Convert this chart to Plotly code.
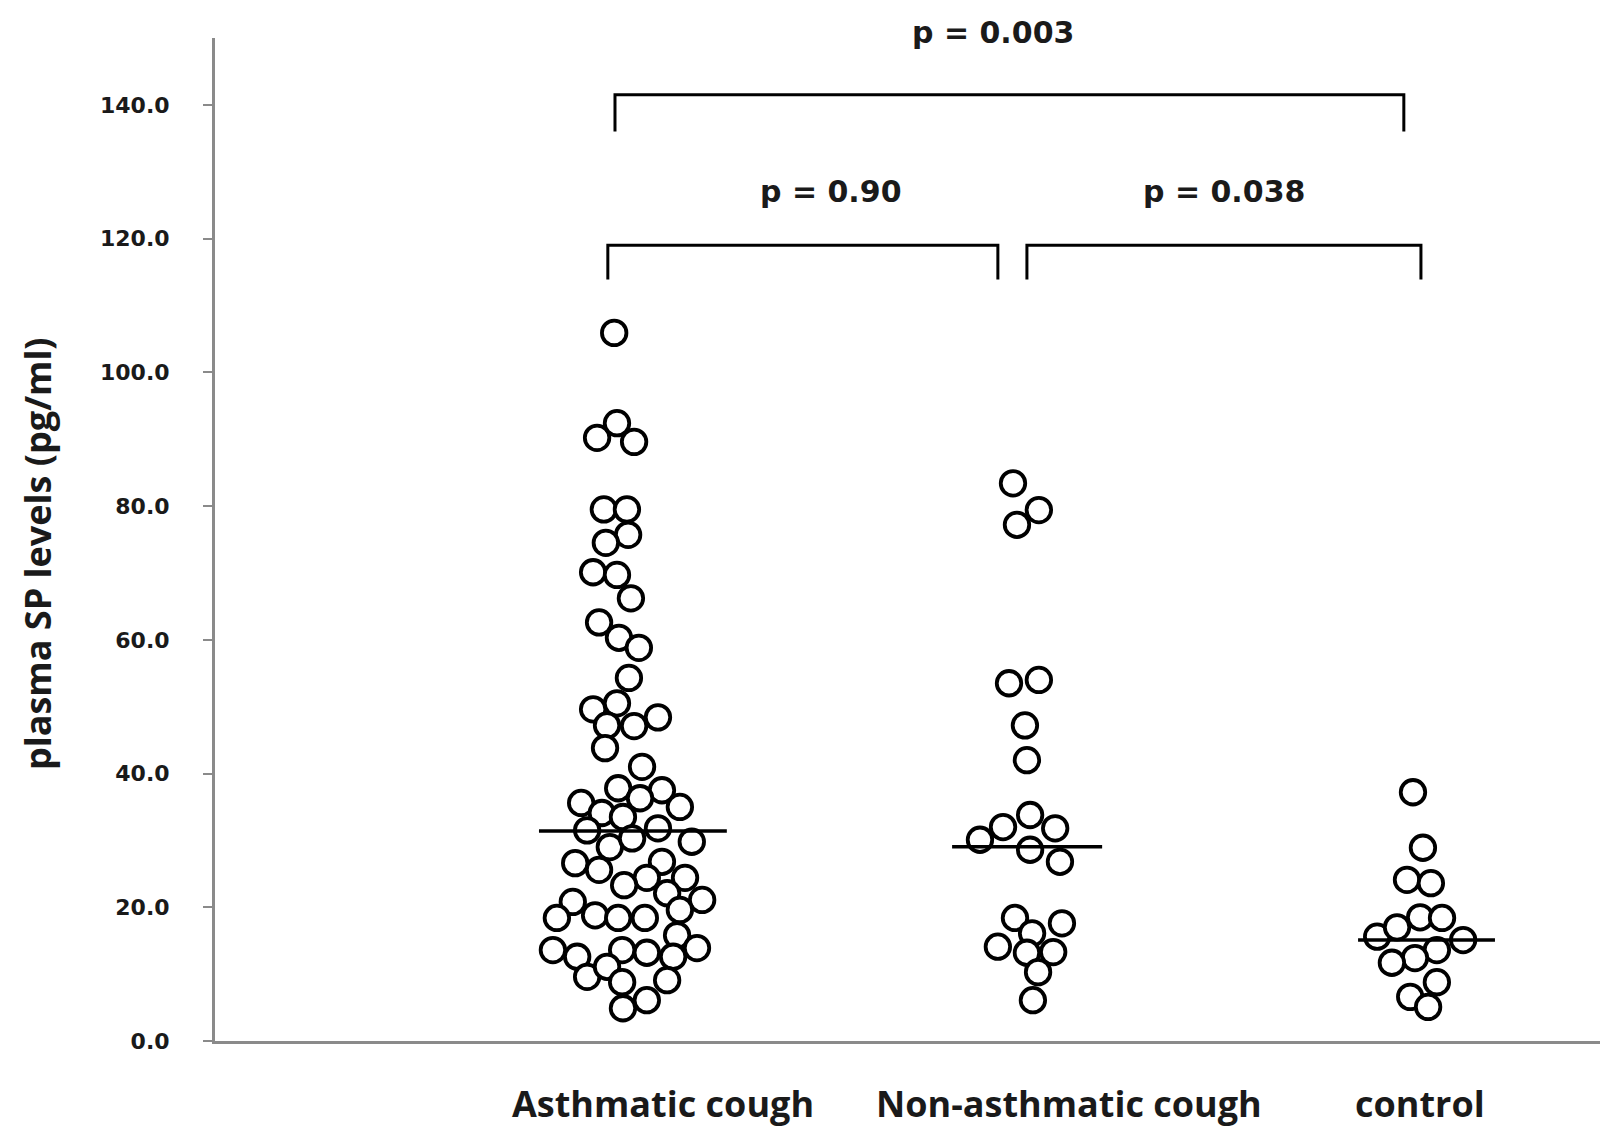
import plotly.graph_objects as go

# ---------------- data ----------------
categories = ["Asthmatic cough", "Non-asthmatic cough", "control"]

# Asthmatic cough: x positions (jittered around 1) and plasma SP values
asthma_x = [1.003, 0.960, 1.010, 1.053, 0.977, 1.035, 1.038, 0.982,
            0.950, 1.010, 1.045, 0.965, 1.015, 1.065, 1.040, 0.950, 1.010, 1.113,
            0.985, 1.053, 0.980, 1.073, 1.013, 1.123,
            1.068, 0.920, 0.972, 1.168, 1.025, 0.935, 1.113, 0.992, 1.048, 1.198,
            0.905, 0.965, 1.123, 1.085, 1.028, 1.181, 1.136, 1.224, 1.168, 0.899,
            0.859, 0.955, 1.013, 1.080, 1.161, 0.849, 0.910, 1.023, 1.085, 1.151,
            1.211, 0.935, 0.985, 1.023, 1.136, 1.025, 1.085]
asthma_y = [105.9, 90.2, 92.4, 89.6, 79.5, 79.5, 75.7, 74.5,
            70.1, 69.7, 66.2, 62.6, 60.3, 58.8, 54.3, 49.6, 50.5, 48.4,
            47.2, 47.1, 43.8, 41.0, 37.8, 37.5,
            36.3, 35.6, 34.1, 35.0, 33.5, 31.5, 31.8, 29.0, 30.3, 29.8,
            26.6, 25.6, 26.8, 24.4, 23.3, 24.4, 22.1, 21.1, 19.6, 20.8,
            18.4, 18.8, 18.4, 18.4, 15.8, 13.6, 12.6, 13.6, 13.2, 12.6,
            13.9, 9.6, 11.1, 8.8, 9.1, 4.9, 6.1]

nonasthma_x = [2.005, 2.070, 2.015, 1.995, 2.070, 2.035, 2.040,
               1.922, 1.980, 2.048, 2.111, 2.048, 2.123, 2.010, 2.053, 2.128,
               1.967, 2.040, 2.106, 2.068, 2.055]
nonasthma_y = [83.4, 79.4, 77.2, 53.5, 54.0, 47.2, 42.0,
               30.1, 32.0, 33.8, 31.8, 28.6, 26.8, 18.4, 16.1, 17.6,
               14.1, 13.2, 13.3, 10.3, 6.1]

control_x = [3.010, 3.035, 2.995, 3.055, 2.920, 2.970, 3.028, 3.083,
             3.136, 3.070, 3.015, 2.957, 3.070, 3.003, 3.048]
control_y = [37.2, 28.9, 24.1, 23.6, 15.6, 17.0, 18.5, 18.4,
             15.1, 13.6, 12.4, 11.7, 8.8, 6.6, 5.1]

medians = [31.4, 29.05, 15.1]

p_labels = ["p = 0.90", "p = 0.038", "p = 0.003"]
y_ticks = [0, 20, 40, 60, 80, 100, 120, 140]
y_title = "plasma SP levels (pg/ml)"

# ---------------- layout constants ----------------
# the page body has an 8 px margin, so the figure is 8 px smaller than the window
W, H = 1600, 1120
median_extent = [(0.814, 1.286), (1.852, 2.229), (2.872, 3.216)]
brackets = [  # (x_left, x_right, y_top, y_bottom)
    (1.005, 2.987, 141.5, 136.0),
    (0.987, 1.967, 119.0, 113.9),
    (2.040, 3.030, 119.0, 113.9),
]
label_x = [1.126, 2.146, 3.028]
p_pos = [(1.548, 0.8465), (2.535, 0.8465), (1.955, 1.005)]
AXIS_GREY = "#8a8a8a"

fig = go.Figure()

marker = dict(symbol="circle", size=24.5, color="white",
              line=dict(color="black", width=3.8))
for xs, ys in [(asthma_x, asthma_y), (nonasthma_x, nonasthma_y), (control_x, control_y)]:
    fig.add_trace(go.Scatter(x=xs, y=ys, mode="markers", marker=marker,
                             showlegend=False, hoverinfo="y"))

# median lines
for (x0, x1), m in zip(median_extent, medians):
    fig.add_trace(go.Scatter(x=[x0, x1], y=[m, m], mode="lines",
                             line=dict(color="black", width=3.5),
                             showlegend=False, hoverinfo="skip"))

# significance brackets
for x0, x1, yt, yb in brackets:
    fig.add_trace(go.Scatter(x=[x0, x0, x1, x1], y=[yb, yt, yt, yb], mode="lines",
                             line=dict(color="black", width=3),
                             showlegend=False, hoverinfo="skip", cliponaxis=False))

annotations = []
for lab, (px, py) in zip(p_labels, p_pos):
    annotations.append(dict(x=px, y=py, xref="x", yref="paper", text=lab,
                            showarrow=False, xanchor="center", yanchor="middle",
                            font=dict(family="DejaVu Sans", size=30, color="#1a1a1a",
                                      weight="bold")))
for lab, lx in zip(categories, label_x):
    annotations.append(dict(x=lx, y=-0.0628, xref="x", yref="paper", text=lab,
                            showarrow=False, xanchor="center", yanchor="middle",
                            font=dict(family="Open Sans", size=36, color="#1a1a1a",
                                      weight="bold")))
annotations.append(dict(x=-0.127, y=0.4856, xref="paper", yref="paper", text=y_title,
                        showarrow=False, textangle=-90, xanchor="center", yanchor="middle",
                        font=dict(family="Open Sans", size=36, color="#1a1a1a",
                                  weight="bold")))

fig.update_layout(
    width=W, height=H,
    margin=dict(l=207, r=0, t=30, b=87, pad=0),
    plot_bgcolor="white", paper_bgcolor="white",
    annotations=annotations,
    xaxis=dict(range=[0, 3.5], showline=True, linecolor=AXIS_GREY, linewidth=3,
               showgrid=False, zeroline=False, showticklabels=False, ticks="",
               fixedrange=True),
    yaxis=dict(range=[0, 150], showline=True, linecolor=AXIS_GREY, linewidth=3,
               showgrid=False, zeroline=False, tickvals=y_ticks,
               ticktext=[f"{v:.1f}" for v in y_ticks],
               ticks="outside", ticklen=9, tickwidth=2, tickcolor=AXIS_GREY,
               ticklabelstandoff=29,
               tickfont=dict(family="DejaVu Sans", size=22, color="#1a1a1a",
                             weight="bold"),
               fixedrange=True),
)

fig.write_html("out.html")
